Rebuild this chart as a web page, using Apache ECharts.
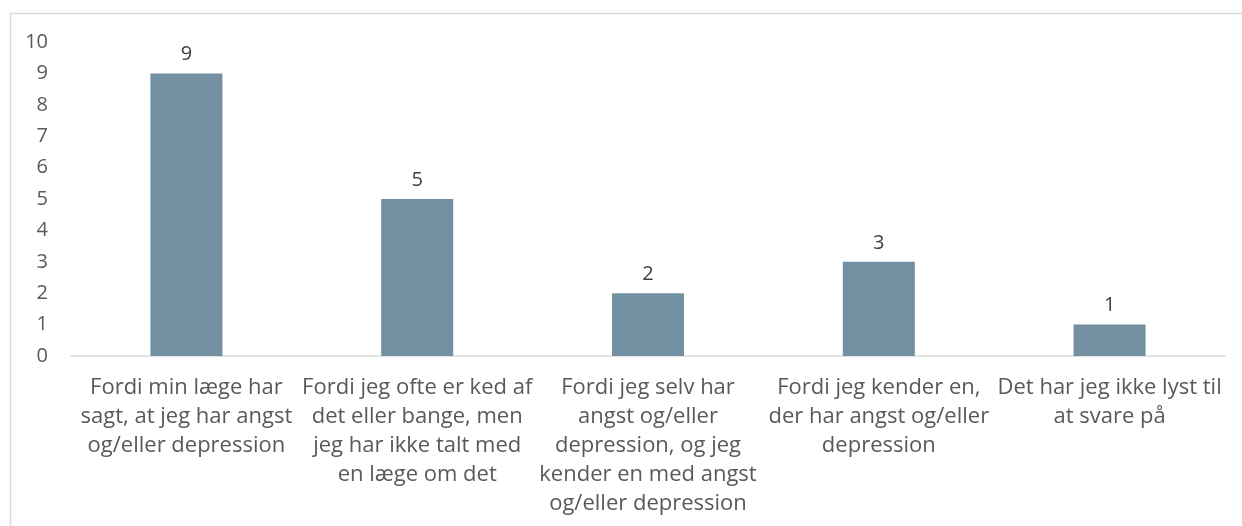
<!DOCTYPE html>
<html>
<head>
<meta charset="utf-8">
<script src="https://cdn.jsdelivr.net/npm/echarts@6/dist/echarts.min.js"></script>
<style>
  html, body { margin: 0; padding: 0; background: #fff; }
  #chart { width: 1242px; height: 526px; }
</style>
</head>
<body>
<div id="chart"></div>
<script>
// categories, wrapped as in the original
const categories = [
  'Fordi min læge har\nsagt, at jeg har angst\nog/eller depression',
  'Fordi jeg ofte er ked af\ndet eller bange, men\njeg har ikke talt med\nen læge om det',
  'Fordi jeg selv har\nangst og/eller\ndepression, og jeg\nkender en med angst\nog/eller depression',
  'Fordi jeg kender en,\nder har angst og/eller\ndepression',
  'Det har jeg ikke lyst til\nat svare på'
];
const values = [9, 5, 2, 3, 1];

const font = '"Open Sans", Lato, sans-serif';
const textColor = '#595959';

const chart = echarts.init(document.getElementById('chart'));
chart.setOption({
  animation: false,
  backgroundColor: '#fff',
  graphic: [{
    type: 'rect',
    shape: { x: 10.5, y: 13.5, width: 1400, height: 700 },
    style: { fill: 'none', stroke: '#d9d9d9', lineWidth: 1.5 },
    silent: true
  }],
  grid: { left: 71, right: 17, top: 42, bottom: 170 },
  xAxis: {
    type: 'category',
    data: categories,
    axisLine: { lineStyle: { color: '#d9d9d9', width: 1.5 } },
    axisTick: { show: false },
    axisLabel: {
      interval: 0,
      color: textColor,
      fontFamily: font,
      fontSize: 22,
      lineHeight: 29,
      margin: 17
    }
  },
  yAxis: {
    type: 'value',
    min: 0,
    max: 10,
    interval: 1,
    axisLine: { show: false },
    axisTick: { show: false },
    splitLine: { show: false },
    axisLabel: {
      color: textColor,
      fontFamily: font,
      fontSize: 20,
      margin: 23
    }
  },
  series: [{
    type: 'bar',
    data: values,
    barWidth: 72,
    itemStyle: { color: '#7491a3' },
    label: {
      show: true,
      position: 'top',
      distance: 9,
      color: '#404040',
      fontFamily: font,
      fontSize: 20
    }
  }]
});
</script>
</body>
</html>
